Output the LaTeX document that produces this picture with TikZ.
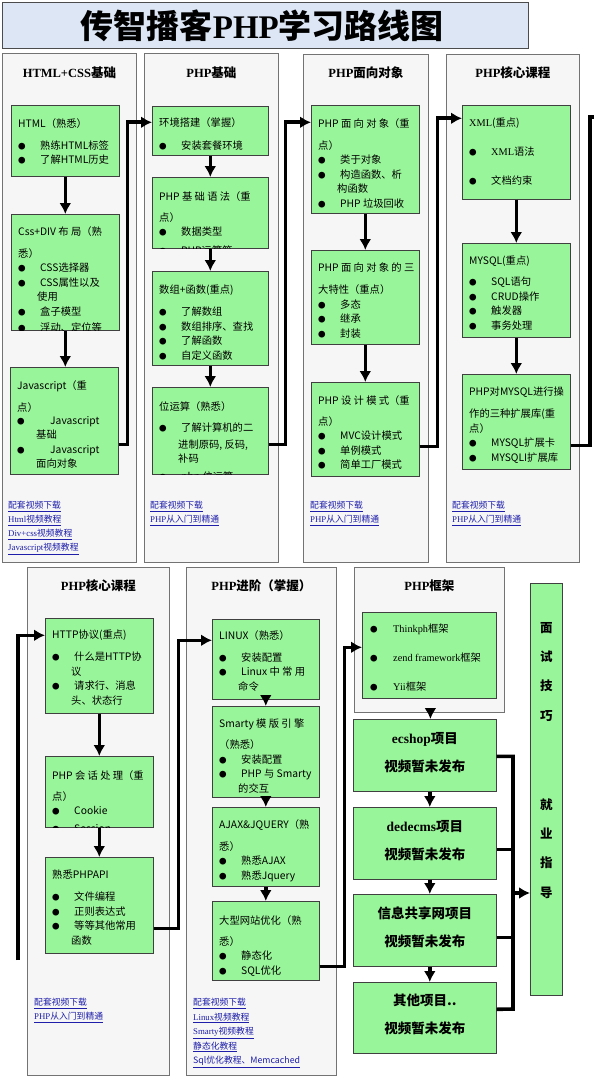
\documentclass[tikz,border=0pt]{standalone}
\usepackage{fontspec}
\setmainfont{Noto Sans CJK SC}
\newfontfamily\latfont{Liberation Serif}
\usetikzlibrary{arrows.meta,positioning,calc}
\definecolor{boxGreen}{RGB}{153,245,153}
\definecolor{panelGray}{RGB}{246,246,246}
\definecolor{titleBlue}{RGB}{220,230,245}
\definecolor{linkBlue}{RGB}{30,30,170}
\newcommand\bu{\makebox[22pt][l]{\fontsize{7.5}{7.5}\selectfont ●}}
\newcommand\lat[1]{{\latfont #1}}
\newcommand\ind{\hspace*{19pt}}
\newcommand\lnk[1]{\underline{#1}}

\tikzset{
  panel/.style={draw=black!55, fill=panelGray, line width=0.8pt, anchor=north west, inner sep=0pt},
  gbox/.style={draw=black!75, fill=boxGreen, line width=0.6pt, anchor=north west, inner sep=0pt},
  btxt/.style={anchor=north west, align=left, inner sep=0pt, font=\fontsize{10.3}{14.5}\selectfont},
  head/.style={inner sep=0pt, font=\fontsize{12.5}{14}\selectfont\bfseries},
  links/.style={anchor=north west, align=left, inner sep=0pt, text=linkBlue, font=\fontsize{8.8}{14}\selectfont},
  proj/.style={align=center, inner sep=0pt, font=\fontsize{13.5}{28}\selectfont\bfseries},
  flow/.style={line width=3.6pt, -{Latex[length=11pt,width=12pt]}},
  wire/.style={line width=3.6pt},
}

\begin{document}
\begin{tikzpicture}[x=1pt,y=-1pt]

      \useasboundingbox (0,0) rectangle (615,1089);

      % title
      \node[panel, draw=black!70, fill=titleBlue, minimum width=526pt, minimum height=46pt] (title) at (2,2) {};
      \node[font=\fontsize{33}{36}\selectfont\bfseries] at ([xshift=-3pt]title.center) {传智播客\lat{PHP}学习路线图};

      % draw the panels
      \foreach \nm/\xa/\ya/\w/\h in {p1/2/53/134/509, p2/144/53/134/509, p3/303/54/125/508, p4/446/54/133/508,
        p5/27/567/142/508, p6/186/567/150/508, p7/354/567/150/145}
      \node[panel, minimum width=\w pt, minimum height=\h pt] (\nm) at (\xa,\ya) {};

      \node[head] at ([yshift=-20pt]p1.north) {\lat{HTML+CSS}基础};
      \node[head] at ([yshift=-20pt]p2.north) {\lat{PHP}基础};
      \node[head] at ([yshift=-19pt]p3.north) {\lat{PHP}面向对象};
      \node[head] at ([yshift=-19pt]p4.north) {\lat{PHP}核心课程};
      \node[head] at ([yshift=-19pt]p5.north) {\lat{PHP}核心课程};
      \node[head] at ([yshift=-19pt]p6.north) {\lat{PHP}进阶（掌握）};
      \node[head] at ([yshift=-19pt]p7.north) {\lat{PHP}框架};

      % draw the green boxes
      \foreach \nm/\xa/\ya/\w/\h in {html/11/105/108/71, cssdiv/11/214/108/116, js/10/367/108/107,
        env/152/106/116/49, syntax/152/177/116/71, arrfn/152/271/116/94, bitop/152/387/116/87,
        oop/311/105/108/108, oop3/311/250/108/94, pattern/311/382/108/94,
        xml/462/105/108/94, mysql/462/243/108/94, phpmysql/462/374/108/95,
        http/45/618/108/95, session/45/756/108/71, phpapi/45/857/108/96,
        linux/212/619/107/80, smarty/212/706/107/91, ajax/212/807/107/79, optimize/212/901/107/79,
        frame/362/612/134/86, ecshop/353/719/143/72, dede/353/807/143/72, share/353/894/143/72,
        other/353/982/143/71, interview/530/583/32/412}
      \node[gbox, minimum width=\w pt, minimum height=\h pt] (\nm) at (\xa,\ya) {};

      % box texts
      \node[btxt] at ([xshift=7pt,yshift=-13pt]html.north west) {HTML（熟悉）\\[7.5pt]\bu 熟练HTML标签\\ \bu 了解HTML历史};
      \begin{scope}
        \clip (cssdiv.south west) rectangle (cssdiv.north east);
        \node[btxt] at ([xshift=7pt,yshift=-12pt]cssdiv.north west) {Css+DIV 布 局（熟\\[7.5pt]悉）\\ \bu CSS选择器\\ \bu CSS属性以及\\ \ind 使用\\ \bu 盒子模型\\[2pt] \bu 浮动、定位等};
      \end{scope}
      \node[btxt] at ([xshift=7pt,yshift=-13pt]js.north west) {Javascript（重\\[7.5pt]点）\\[-1.5pt]\bu\hspace{11pt}Javascript\\ \ind 基础\\ \bu\hspace{11pt}Javascript\\ \ind 面向对象};

      \node[btxt] at ([xshift=7pt,yshift=-11pt]env.north west) {环境搭建（掌握）\\[8.5pt]\bu 安装套餐环境};
      \begin{scope}
        \clip (syntax.south west) rectangle (syntax.north east);
        \node[btxt] at ([xshift=7pt,yshift=-14pt]syntax.north west) {PHP 基 础 语 法（重\\[6.5pt]点）\\ \bu 数据类型\\[4pt] \bu PHP运算符};
      \end{scope}
      \node[btxt] at ([xshift=7pt,yshift=-14pt]arrfn.north west) {数组+函数(重点)\\[7.5pt]\bu 了解数组\\ \bu 数组排序、查找\\ \bu 了解函数\\ \bu 自定义函数};
      \begin{scope}
        \clip (bitop.south west) rectangle (bitop.north east);
        \node[btxt] at ([xshift=7pt,yshift=-14pt]bitop.north west) {位运算（熟悉）\\[6.5pt]\bu 了解计算机的二\\[2.5pt]\ind 进制原码, 反码,\\ \ind 补码\\[3pt] \bu php 位运算};
      \end{scope}

      \node[btxt] at ([xshift=7pt,yshift=-13pt]oop.north west) {PHP 面 向 对 象（重\\[7.5pt]点）\\ \bu 类于对象\\ \bu 构造函数、析\\ \ind 构函数\\ \bu PHP 垃圾回收};
      \node[btxt] at ([xshift=7pt,yshift=-13pt]oop3.north west) {PHP 面 向 对 象 的 三\\[7.5pt]大特性（重点）\\ \bu 多态\\ \bu 继承\\ \bu 封装};
      \node[btxt] at ([xshift=7pt,yshift=-13pt]pattern.north west) {PHP 设 计 模 式（重\\[6.5pt]点）\\ \bu MVC设计模式\\ \bu 单例模式\\ \bu 简单工厂模式};

      \node[btxt] at ([xshift=7pt,yshift=-13pt]xml.north west) {\lat{XML}(重点)\\[14.5pt]\bu \lat{XML}语法\\[14.5pt]\bu 文档约束};
      \node[btxt] at ([xshift=7pt,yshift=-13pt]mysql.north west) {MYSQL(重点)\\[6.5pt]\bu SQL语句\\ \bu CRUD操作\\ \bu 触发器\\ \bu 事务处理};
      \node[btxt] at ([xshift=7pt,yshift=-13pt]phpmysql.north west) {PHP对MYSQL进行操\\[7.5pt]作的三种扩展库(重\\ 点）\\ \bu MYSQL扩展卡\\ \bu MYSQLI扩展库};

      \node[btxt] at ([xshift=7pt,yshift=-12pt]http.north west) {HTTP协议(重点)\\[7.5pt]\bu 什么是HTTP协\\ \ind 议\\ \bu 请求行、消息\\ \ind 头、状态行};
      \begin{scope}
        \clip (session.south west) rectangle (session.north east);
        \node[btxt] at ([xshift=7pt,yshift=-14pt]session.north west) {PHP 会 话 处 理（重\\[6.5pt]点）\\ \bu Cookie\\[3pt] \bu Session};
      \end{scope}
      \node[btxt] at ([xshift=7pt,yshift=-13pt]phpapi.north west) {熟悉PHPAPI\\[7.5pt]\bu 文件编程\\ \bu 正则表达式\\ \bu 等等其他常用\\ \ind 函数};

      \node[btxt] at ([xshift=7pt,yshift=-11pt]linux.north west) {LINUX（熟悉）\\[7.5pt]\bu 安装配置\\ \bu Linux 中 常 用\\ \ind 命令};
      \node[btxt] at ([xshift=7pt,yshift=-13pt]smarty.north west) {Smarty 模 版 引 擎\\[6.5pt]（熟悉）\\ \bu 安装配置\\ \bu PHP 与 Smarty\\ \ind 的交互};
      \node[btxt] at ([xshift=7pt,yshift=-12pt]ajax.north west) {AJAX\&JQUERY（熟\\[7.5pt]悉）\\ \bu 熟悉AJAX\\ \bu 熟悉Jquery};
      \node[btxt] at ([xshift=7pt,yshift=-14pt]optimize.north west) {大型网站优化（熟\\[6.5pt]悉）\\ \bu 静态化\\ \bu SQL优化};

      \node[btxt, font=\fontsize{10.3}{29}\selectfont] at ([xshift=8pt,yshift=-12pt]frame.north west) {\makebox[23pt][l]{\fontsize{7.5}{7.5}\selectfont ●}\lat{Thinkph}框架\\ \makebox[23pt][l]{\fontsize{7.5}{7.5}\selectfont ●}\lat{zend framework}框架\\ \makebox[23pt][l]{\fontsize{7.5}{7.5}\selectfont ●}\lat{Yii}框架};

      \node[proj] at ([yshift=3pt]ecshop.center) {\lat{ecshop}项目\\视频暂未发布};
      \node[proj] at ([yshift=3pt]dede.center) {\lat{dedecms}项目\\视频暂未发布};
      \node[proj] at ([yshift=3pt]share.center) {信息共享网项目\\视频暂未发布};
      \node[proj] at ([yshift=3pt]other.center) {其他项目..\\视频暂未发布};

      \node[anchor=north, align=center, inner sep=0pt, font=\fontsize{12.5}{29.3}\selectfont\bfseries] at ([yshift=-39pt]interview.north) {面\\试\\技\\巧\\[59.7pt]就\\业\\指\\导};

      % links under the panels
      \node[links] at (8,501) {\lnk{配套视频下载}\\ \lnk{\lat{Html}视频教程}\\ \lnk{\lat{Div+css}视频教程}\\ \lnk{\lat{Javascript}视频教程}};
      \node[links] at (150,501) {\lnk{配套视频下载}\\ \lnk{\lat{PHP}从入门到精通}};
      \node[links] at (310,501) {\lnk{配套视频下载}\\ \lnk{\lat{PHP}从入门到精通}};
      \node[links] at (452,501) {\lnk{配套视频下载}\\ \lnk{\lat{PHP}从入门到精通}};
      \node[links] at (34,998) {\lnk{配套视频下载}\\ \lnk{\lat{PHP}从入门到精通}};
      \node[links, font=\fontsize{8.8}{14.5}\selectfont] at (193,998) {\lnk{配套视频下载}\\ \lnk{\lat{Linux}视频教程}\\ \lnk{\lat{Smarty}视频教程}\\ \lnk{静态化教程}\\ \lnk{Sql优化教程、Memcached}};

      % draw the arrows inside the columns
      \foreach \a/\b in {html/cssdiv, cssdiv/js, env/syntax, syntax/arrfn, arrfn/bitop, oop/oop3, oop3/pattern,
        xml/mysql, mysql/phpmysql, http/session, session/phpapi, linux/smarty, smarty/ajax, ajax/optimize}
      \draw[flow] (\a.south) -- (\a.south |- \b.north);

      % draw the links between the columns
      \draw[flow] ([yshift=-23.5pt]js.east) -- ++(9,0) |- ([yshift=8.5pt]env.west);
      \draw[flow] ([yshift=-13.5pt]bitop.east) -- ++(17,0) |- ([yshift=37pt]oop.west);
      \draw[flow] ([yshift=-17pt]pattern.east) -- ++(18,0) |- ([yshift=34pt]xml.west);
      \coordinate (toprowout) at (590,117);
      \draw[wire] ([yshift=-23.5pt]phpmysql.east) -| (toprowout) -- ++(4,0);

      \coordinate (rowin) at (18,960);
      \draw[flow] (rowin) |- ([yshift=30.5pt]http.west);
      \draw[flow] ([yshift=-23pt]phpapi.east) -- ++(25,0) |- ([yshift=19pt]linux.west);
      \draw[flow] ([yshift=-25.5pt]optimize.east) -- ++(25,0) |- ([yshift=8pt]frame.west);

      % framework and projects
      \draw[flow] ([xshift=1pt]p7.south) -- ([xshift=1pt]p7.south |- ecshop.north);
      \foreach \a/\b in {ecshop/dede, dede/share, share/other}
      \draw[flow] ([xshift=5pt]\a.south) -- ([xshift=5pt]\a.south |- \b.north);

      \coordinate (busbot) at (513,1009);
      \coordinate (busmid) at (513,893);
      \draw[wire] ([yshift=-1pt]ecshop.east) -| (busbot) -- ([yshift=8.5pt]other.east);
      \draw[wire] ([yshift=-6pt]dede.east) -- ([yshift=-6pt]dede.east -| busbot);
      \draw[wire] ([yshift=-7pt]share.east) -- ([yshift=-7pt]share.east -| busbot);
      \draw[flow] (busmid) -- (busmid -| interview.west);

\end{tikzpicture}
\end{document}
